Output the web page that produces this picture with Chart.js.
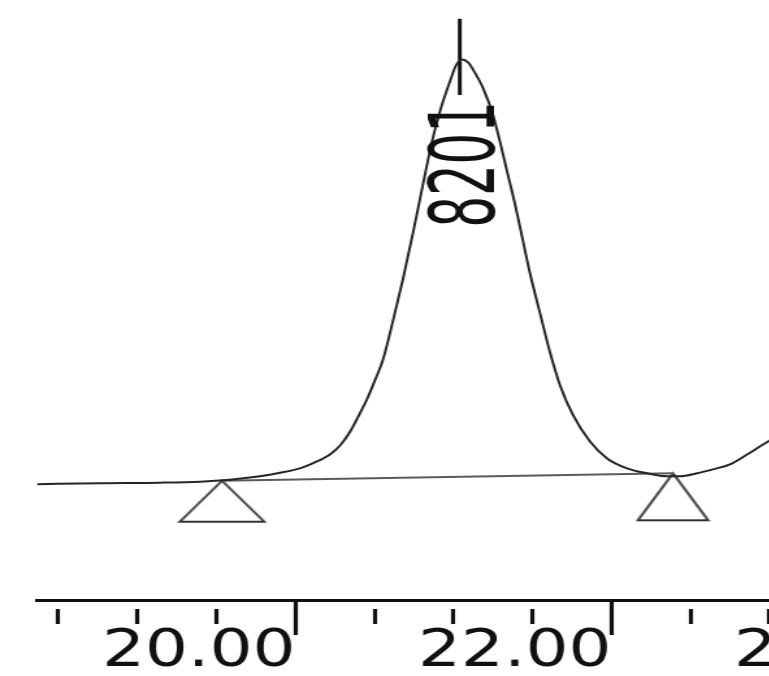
<!DOCTYPE html>
<html>
<head>
<meta charset="utf-8">
<script src="https://cdn.jsdelivr.net/npm/chart.js@4.4.1/dist/chart.umd.min.js"></script>
<style>
  html, body { margin: 0; padding: 0; background: #fff; overflow: hidden; width: 769px; height: 676px; }
  #wrap { width: 720px; height: 676px; transform: scaleX(1.3); transform-origin: 0 0; }
</style>
</head>
<body>
<div id="wrap"><canvas id="chrom" width="720" height="676"></canvas></div>
<script>
// retention time (min) and detector response
const time = [18.364, 18.763, 19.142, 19.396, 19.585, 19.775, 19.902, 20.028, 20.123, 20.218,
              20.282, 20.345, 20.396, 20.453, 20.503, 20.554, 20.617, 20.680, 20.744, 20.807,
              20.864, 20.915, 20.978, 21.016, 21.054, 21.092, 21.123, 21.187, 21.250, 21.294,
              21.339, 21.389, 21.434, 21.484, 21.547, 21.611, 21.674, 21.756, 21.864, 21.972,
              22.098, 22.225, 22.351, 22.434, 22.541, 22.642, 22.750, 22.858, 22.959, 23.066];
const signal = [11.7, 11.8, 11.85, 11.95, 12.15, 12.5, 12.85, 13.3, 13.9, 14.7,
                15.6, 17.0, 18.5, 20.3, 22.2, 24.3, 28.2, 32.4, 37.1, 42.0,
                46.3, 49.4, 52.4, 54.0, 54.6, 54.3, 53.6, 51.7, 49.0, 46.3,
                43.3, 40.0, 36.7, 33.0, 29.0, 25.0, 21.7, 18.7, 16.0, 14.3,
                13.3, 12.8, 12.5, 12.5, 12.8, 13.2, 13.7, 14.7, 15.7, 16.7];

// integration baseline, peak start / end
const baseTime = [19.535, 22.389];
const baseSignal = [12.05, 12.8];

// apex marker
const apexTime = [21.04, 21.04];
const apexMark = [58.7, 51.0];
const peakLabel = "8201";

const tickLabels = ["20.00", "22.00", "24.00"];

function isMajor(v) {
    return Math.abs(v / 2 - Math.round(v / 2)) < 1e-6;
}

// open triangle with its tip at the point
function triangleMark(w, h) {
    const c = document.createElement("canvas");
    c.width = w + 4;
    c.height = 2 * h + 4;
    const g = c.getContext("2d");
    const cx = c.width / 2, cy = c.height / 2;
    g.strokeStyle = "#333";
    g.lineWidth = 2;
    g.beginPath();
    g.moveTo(cx, cy);
    g.lineTo(cx + w / 2, cy + h);
    g.lineTo(cx - w / 2, cy + h);
    g.closePath();
    g.stroke();
    return c;
}
const marks = [triangleMark(65, 41), triangleMark(54, 47)];

const peakText = {
    id: "peakText",
    afterDatasetsDraw(chart) {
        const ctx = chart.ctx;
        const x = chart.scales.x.getPixelForValue(apexTime[0]) + 8;
        const y = chart.scales.y.getPixelForValue(44);
        ctx.save();
        ctx.translate(x, y);
        ctx.rotate(-Math.PI / 2);
        ctx.scale(0.72, 1);
        ctx.font = "69px 'DejaVu Sans'";
        ctx.fillStyle = "#111";
        ctx.textAlign = "center";
        ctx.textBaseline = "middle";
        ctx.fillText(peakLabel, 0, 0);
        ctx.restore();
    }
};

const ctx = document.getElementById("chrom").getContext("2d");
new Chart(ctx, {
    type: "line",
    data: {
        datasets: [
            {
                data: time.map((t, i) => ({ x: t, y: signal[i] })),
                borderColor: "#262626",
                borderWidth: 2,
                pointRadius: 0,
                cubicInterpolationMode: "monotone"
            },
            {
                data: baseTime.map((t, i) => ({ x: t, y: baseSignal[i] })),
                borderColor: "#5a5a5a",
                borderWidth: 2,
                pointRadius: 0
            },
            {
                data: apexTime.map((t, i) => ({ x: t, y: apexMark[i] })),
                borderColor: "#111",
                borderWidth: 3,
                pointRadius: 0
            },
            {
                data: baseTime.map((t, i) => ({ x: t, y: baseSignal[i] })),
                showLine: false,
                pointStyle: c => marks[c.dataIndex],
                pointRadius: 5
            }
        ]
    },
    options: {
        responsive: false,
        animation: false,
        events: [],
        layout: { padding: { left: 28.46, right: 6.54, top: 0, bottom: 5.8 } },
        plugins: { legend: { display: false }, tooltip: { enabled: false } },
        scales: {
            x: {
                type: "linear",
                min: 18.364,
                max: 24.0,
                border: { display: true, color: "#111", width: 3 },
                grid: {
                    drawOnChartArea: false,
                    drawTicks: true,
                    tickLength: 35,
                    tickColor: "#111",
                    tickWidth: 3.2,
                    tickBorderDash: c => isMajor(c.tick.value) ? [] : [0, 7, 15, 100]
                },
                ticks: {
                    stepSize: 0.5,
                    includeBounds: false,
                    autoSkip: false,
                    maxRotation: 0,
                    align: "end",
                    padding: -8.4,
                    color: "#111",
                    font: { family: "DejaVu Sans", size: 52, lineHeight: 1 },
                    callback: v => tickLabels.find(l => Math.abs(parseFloat(l) - v) < 1e-6) || ""
                }
            },
            y: {
                display: false,
                min: 0,
                max: 60
            }
        }
    },
    plugins: [peakText]
});
</script>
</body>
</html>
